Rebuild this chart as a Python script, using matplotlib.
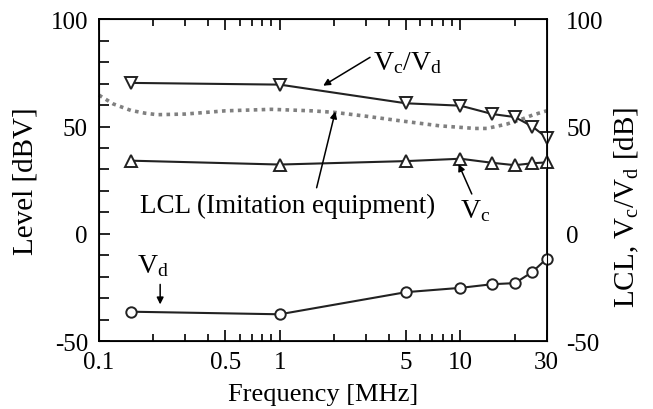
#!/usr/bin/env python
"""Level vs frequency chart."""
from matplotlib import pyplot as plt
from matplotlib.ticker import LogLocator, FixedLocator, MultipleLocator, NullFormatter

plt.rcParams["font.family"] = ["Liberation Serif", "DejaVu Serif"]
plt.rcParams["mathtext.fontset"] = "custom"
plt.rcParams["mathtext.rm"] = "Liberation Serif"
plt.rcParams["mathtext.it"] = "Liberation Serif:italic"
plt.rcParams["axes.unicode_minus"] = False

# Measured points (MHz)
freq = [0.15, 1, 5, 10, 15, 20, 25, 30]
vc_vd = [70.3, 69.5, 60.8, 59.7, 55.8, 54.4, 50.0, 44.8]
vc = [34.1, 32.3, 33.9, 35.0, 33.1, 32.0, 32.9, 33.3]
vd = [-36.2, -37.4, -27.1, -25.1, -23.4, -22.9, -17.7, -11.5]

# LCL curve
lcl_freq = [0.1, 0.12, 0.15, 0.18, 0.21, 0.3, 0.5, 0.9, 1.5, 2, 3, 4.6, 7.7, 10, 12, 14, 18, 22, 25, 30]
lcl = [64.6, 60.5, 57.5, 56.2, 55.5, 55.8, 57.3, 58.0, 57.3, 56.6, 54.8, 52.7, 50.3, 49.6, 49.1, 49.1, 51.1, 53.5, 55.3, 57.3]

xtick_vals = [0.1, 0.5, 1, 5, 10, 30]
xtick_labels = ["0.1", "0.5", "1", "5", "10", "30"]
ytick_vals = [-50, 0, 50, 100]

FS = 18
LFS = 21
TFS = 20

fig = plt.figure(figsize=(6.53, 4.10), dpi=100)
ax = fig.add_axes([0.1516, 0.165, 0.6856, 0.786])

ax.plot(lcl_freq, lcl, color="#808080", lw=2.6, ls=(0, (1, 1.2)), zorder=1, clip_on=False)
for vals, mk, size in [(vc_vd, "v", 8), (vc, "^", 8), (vd, "o", 7.5)]:
    ax.plot(freq, vals, color="#222222", lw=1.5, marker=mk, ms=size,
            mfc="white", mec="#222222", mew=1.4, zorder=3, clip_on=False)

ax.set_xscale("log")
ax.set_xlim(0.1, 30)
ax.set_ylim(-50, 100)
ax.xaxis.set_major_locator(FixedLocator(xtick_vals))
ax.set_xticklabels(xtick_labels)
ax.xaxis.set_minor_locator(LogLocator(base=10, subs=range(2, 10), numticks=20))
ax.xaxis.set_minor_formatter(NullFormatter())
ax.yaxis.set_major_locator(FixedLocator(ytick_vals))
ax.yaxis.set_minor_locator(MultipleLocator(10))

ax.tick_params(which="both", direction="in", top=True, right=True, labelsize=FS, width=1.2)
ax.tick_params(which="major", length=8)
ax.tick_params(which="minor", length=5)
ax.tick_params(axis="y", which="minor", length=7)
ax.tick_params(axis="y", which="major", pad=8)
ax.tick_params(axis="x", which="major", pad=7)
for s in ax.spines.values():
    s.set_linewidth(1.3)

ax2 = ax.twinx()
ax2.set_ylim(-50, 100)
ax2.yaxis.set_major_locator(FixedLocator(ytick_vals))
ax2.tick_params(direction="in", length=0, labelsize=FS, pad=14)

ax.set_xlabel("Frequency [MHz]", fontsize=FS + 1, labelpad=7)
ax.set_ylabel("Level [dBV]", fontsize=LFS)
ax.yaxis.set_label_coords(-0.136, 0.5)
ax2.set_ylabel(r"LCL, V$_\mathrm{c}$/V$_\mathrm{d}$ [dB]", fontsize=LFS)
ax2.yaxis.set_label_coords(1.148, 0.42)

arrow = dict(arrowstyle="-|>", color="black", lw=1.1, mutation_scale=10, shrinkA=0, shrinkB=0)
ax.annotate("", xy=(1.74, 69), xytext=(3.16, 82.2), arrowprops=arrow)
ax.text(3.27, 76.7, r"V$_\mathrm{c}$/V$_\mathrm{d}$", fontsize=TFS, va="baseline", ha="left")

ax.annotate("", xy=(2.03, 57), xytext=(1.60, 21.5), arrowprops=arrow)
ax.text(1.11, 10.0, "LCL (Imitation equipment)", fontsize=19.5, va="baseline", ha="center")

ax.annotate("", xy=(9.76, 32.5), xytext=(11.55, 18.6), arrowprops=arrow)
ax.text(9.96, 7.7, r"V$_\mathrm{c}$", fontsize=TFS, va="baseline", ha="left")

ax.annotate("", xy=(0.218, -32.8), xytext=(0.218, -23.5), arrowprops=arrow)
ax.text(0.162, -17.9, r"V$_\mathrm{d}$", fontsize=TFS, va="baseline", ha="left")

fig.savefig("out.png", dpi=100)
